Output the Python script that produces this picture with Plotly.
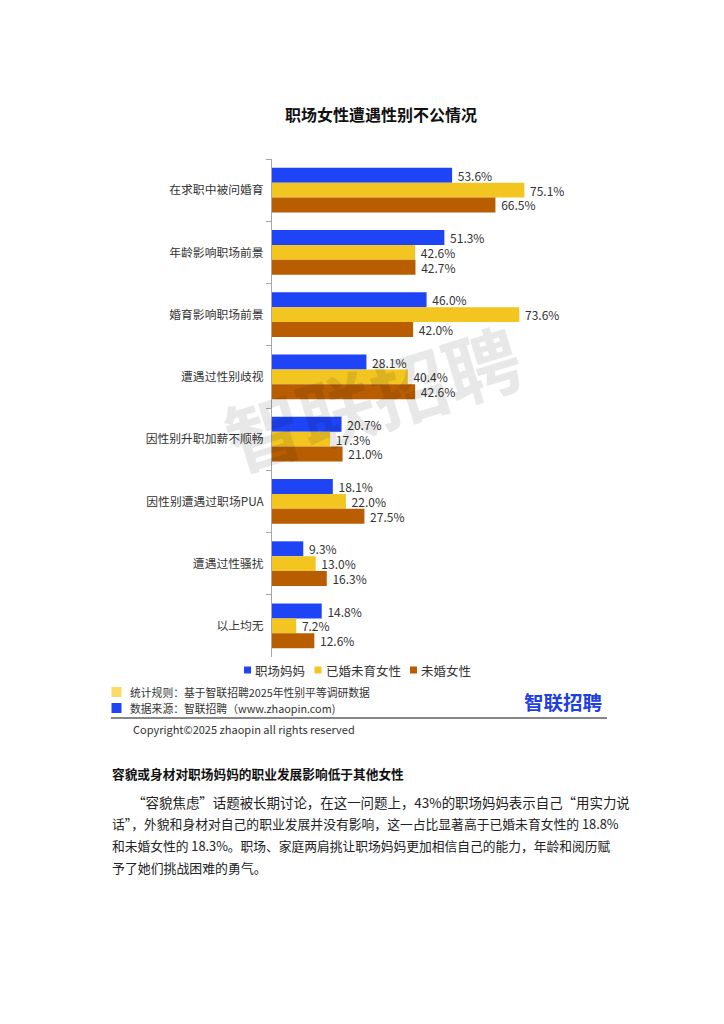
import plotly.graph_objects as go

# 数据
categories = ["在求职中被问婚育", "年龄影响职场前景", "婚育影响职场前景", "遭遇过性别歧视",
              "因性别升职加薪不顺畅", "因性别遭遇过职场PUA", "遭遇过性骚扰", "以上均无"]
mothers = [53.6, 51.3, 46.0, 28.1, 20.7, 18.1, 9.3, 14.8]
married_no_kids = [75.1, 42.6, 73.6, 40.4, 17.3, 22.0, 13.0, 7.2]
unmarried = [66.5, 42.7, 42.0, 42.6, 21.0, 27.5, 16.3, 12.6]
series_names = ["职场妈妈", "已婚未育女性", "未婚女性"]
series_values = [mothers, married_no_kids, unmarried]
colors = ["#1F44F5", "#F2C521", "#B85E00"]

title = "职场女性遭遇性别不公情况"
note_rule = "统计规则：基于智联招聘2025年性别平等调研数据"
note_source = "数据来源：智联招聘（www.zhaopin.com)"
copyright_text = "Copyright©2025 zhaopin all rights reserved"
heading = "容貌或身材对职场妈妈的职业发展影响低于其他女性"
paragraph = [
    "　　“容貌焦虑”话题被长期讨论，在这一问题上，43%的职场妈妈表示自己“用实力说",
    "话”，外貌和身材对自己的职业发展并没有影响，这一占比显著高于已婚未育女性的 18.8%",
    "和未婚女性的 18.3%。职场、家庭两肩挑让职场妈妈更加相信自己的能力，年龄和阅历赋",
    "予了她们挑战困难的勇气。",
]

FONT = "Noto Sans CJK SC"
W, H = 724, 1024
OFF = 8  # 页面边距
L, R, T, B = 272 - OFF, 608 - OFF, 159 - OFF, 657 - OFF  # 绘图区像素边界


def xp(px):
    return (px - OFF - L) / (R - L)


def yp(py):
    return (B - (py - OFF)) / (B - T)


fig = go.Figure()
for name, vals, col in zip(series_names, series_values, colors):
    fig.add_trace(go.Bar(
        y=categories, x=vals, name=name, orientation="h",
        marker=dict(color=col, line=dict(width=0)),
        text=[f"\u00a0{v:.1f}%" for v in vals], textposition="outside",
        textfont=dict(size=12, color="#333333", family=FONT),
        constraintext="none", cliponaxis=False, showlegend=False,
    ))

fig.update_layout(
    width=W, height=H,
    margin=dict(l=L, r=W - R, t=T, b=H - B),
    paper_bgcolor="white", plot_bgcolor="white",
    barmode="group", bargap=0.284, bargroupgap=0,
    font=dict(family=FONT, color="#333333"),
    xaxis=dict(range=[0, 100], visible=False, fixedrange=True),
    yaxis=dict(autorange="reversed", showline=True, linecolor="#A6A6A6", linewidth=1,
               ticks="outside", tickson="boundaries", ticklen=5, tickcolor="#A6A6A6",
               ticklabelstandoff=5,
               tickfont=dict(size=11.8, color="#333333", family=FONT), showgrid=False),
)

ann = []
shapes = []


def text_at(x, y, text, size, color="#333333", xanchor="left", **kw):
    ann.append(dict(xref="paper", yref="paper", x=xp(x), y=yp(y), text=text, showarrow=False,
                    xanchor=xanchor, yanchor="middle", font=dict(size=size, color=color, family=FONT), **kw))


def rect_at(x0, y0, x1, y1, color):
    shapes.append(dict(type="rect", xref="paper", yref="paper", x0=xp(x0), x1=xp(x1),
                       y0=yp(y1), y1=yp(y0), fillcolor=color, line=dict(width=0)))


# 标题
text_at(381, 114, f"<b>{title}</b>", 16, "#111111", xanchor="center")

# 水印
text_at(372, 396, "<b>智联招聘</b>", 76, "rgba(0,0,0,0.09)", xanchor="center", textangle=-17)

# 图例
lx = 244
for name, col in zip(series_names, colors):
    rect_at(lx, 666.5, lx + 7, 673.5, col)
    text_at(lx + 9, 670, name, 12.5)
    lx += 10 + len(name) * 12.5 + 10.5

# 注释
rect_at(111.5, 687, 121.5, 697, "#FFD966")
rect_at(111.5, 703, 121.5, 713, "#1F44F5")
text_at(128, 692, note_rule, 10.8)
text_at(128, 708, note_source, 10.8)
text_at(604, 701, "<b>智联招聘</b>", 19.5, "#1F3FE0", xanchor="right")
shapes.append(dict(type="line", xref="paper", yref="paper", x0=xp(111), x1=xp(607),
                   y0=yp(718), y1=yp(718), line=dict(color="#111111", width=1.2)))
text_at(131, 729, copyright_text, 11)

# 正文
text_at(110, 773, f"<b>{heading}</b>", 12.7, "#111111")
line_sizes = [13.45, 12.8, 12.75, 12.9]
for i, line in enumerate(paragraph):
    text_at(110, 802 + i * 21.7, line, line_sizes[i], "#222222")

fig.update_layout(annotations=ann, shapes=shapes)

fig.write_html("out.html")
